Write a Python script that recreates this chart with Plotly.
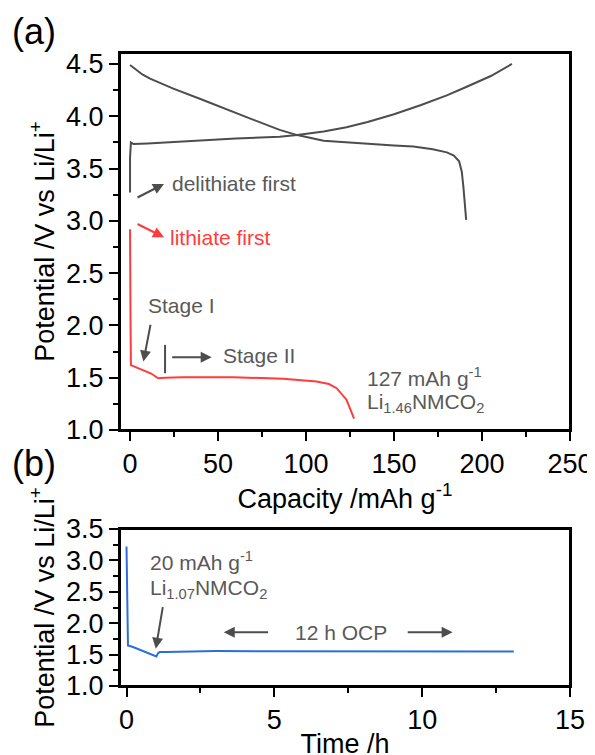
import plotly.graph_objects as go

# ---- data ----
delith_charge_x = [0, 0, 0.5, 2, 10, 20, 40, 60, 85, 95, 110, 123, 135, 150, 165, 180, 191, 205, 217]
delith_charge_y = [3.27, 3.60, 3.75, 3.735, 3.74, 3.75, 3.773, 3.787, 3.805, 3.82, 3.855, 3.895, 3.945, 4.02, 4.105, 4.20, 4.28, 4.385, 4.50]

delith_dis_x = [0, 3, 7, 11.4, 24.6, 40, 55, 68, 85, 95, 110, 130, 150, 161, 172, 180, 184, 187, 188.5, 189.4, 190.2, 191]
delith_dis_y = [4.49, 4.45, 4.40, 4.36, 4.265, 4.165, 4.07, 3.98, 3.87, 3.82, 3.765, 3.74, 3.72, 3.71, 3.685, 3.655, 3.625, 3.57, 3.47, 3.33, 3.15, 3.01]

lith_x = [0, 0, 0.3, 0.5, 7.6, 12, 16, 20, 30, 58.7, 87, 106, 113, 117.4, 123, 127.3]
lith_y = [2.92, 2.04, 2.0, 1.62, 1.575, 1.54, 1.495, 1.50, 1.505, 1.505, 1.49, 1.463, 1.44, 1.40, 1.29, 1.11]

ocp_t = [0, 0.02, 0.03, 0.05, 0.22, 0.67, 0.9, 1.01, 1.07, 1.12, 1.35, 3.03, 13.1]
ocp_v = [3.22, 2.72, 2.70, 1.645, 1.62, 1.54, 1.487, 1.47, 1.524, 1.54, 1.54, 1.556, 1.55]

GRAY = "#4d4d4d"
TXT = "#595959"
RED = "#ff3b3b"
BLUE = "#2b6fd6"
FONT = "Liberation Sans, Arial, sans-serif"

W, H = 595, 755
OFF = 8  # page body offset
ML, MR, MT, MB = 120 - OFF, 25 + OFF, 53 - OFF, 69 + OFF

fig = go.Figure()
fig.add_trace(go.Scatter(x=delith_charge_x, y=delith_charge_y, mode="lines",
                         line=dict(color=GRAY, width=2), xaxis="x", yaxis="y", showlegend=False))
fig.add_trace(go.Scatter(x=delith_dis_x, y=delith_dis_y, mode="lines",
                         line=dict(color=GRAY, width=2), xaxis="x", yaxis="y", showlegend=False))
fig.add_trace(go.Scatter(x=lith_x, y=lith_y, mode="lines",
                         line=dict(color=RED, width=2), xaxis="x", yaxis="y", showlegend=False))
fig.add_trace(go.Scatter(x=ocp_t, y=ocp_v, mode="lines",
                         line=dict(color=BLUE, width=2), xaxis="x2", yaxis="y2", showlegend=False))

ax_common = dict(showline=True, linecolor="black", linewidth=2, mirror=True,
                 ticks="outside", ticklen=9, tickwidth=2, tickcolor="black",
                 showgrid=False, zeroline=False, automargin=False,
                 tickfont=dict(size=27, color="black", family=FONT))
TITLE_FONT = dict(size=27, color="black", family=FONT)

fig.update_layout(
    width=W, height=H,
    margin=dict(l=ML, r=MR, t=MT, b=MB, autoexpand=False),
    plot_bgcolor="white", paper_bgcolor="white",
    font=dict(family=FONT),
    xaxis=dict(domain=[0, 1], anchor="y", range=[-5.7, 250], dtick=50, tick0=0,
               minor=dict(dtick=25, ticklen=5, tickwidth=2, tickcolor="black", ticks="outside"),
               title=dict(text="Capacity /mAh g<sup>-1</sup>", font=TITLE_FONT, standoff=0),
               **ax_common),
    yaxis=dict(domain=[0.4044, 1], anchor="x", range=[1.0, 4.605], dtick=0.5, tick0=1.0,
               tickformat=".1f",
               minor=dict(dtick=0.25, ticklen=5, tickwidth=2, tickcolor="black", ticks="outside"),
               title=dict(text="Potential /V vs Li/Li<sup>+</sup>", font=TITLE_FONT, standoff=4),
               **ax_common),
    xaxis2=dict(domain=[0, 1], anchor="y2", range=[-0.22, 15], dtick=5, tick0=0,
                minor=dict(dtick=2.5, ticklen=5, tickwidth=2, tickcolor="black", ticks="outside"),
                title=dict(text="Time /h", font=TITLE_FONT, standoff=0),
                **ax_common),
    yaxis2=dict(domain=[0, 0.248], anchor="x2", range=[1.0, 3.5], dtick=0.5, tick0=1.0,
                tickformat=".1f",
                minor=dict(dtick=0.25, ticklen=5, tickwidth=2, tickcolor="black", ticks="outside"),
                title=dict(text="Potential /V vs Li/Li<sup>+</sup>", font=TITLE_FONT, standoff=4),
                **ax_common),
)

ann = []
def txt(x, y, s, xr="x", yr="y", color=TXT, size=21):
    ann.append(dict(x=x, y=y, xref=xr, yref=yr, text=s, showarrow=False,
                    xanchor="left", yanchor="middle", font=dict(size=size, color=color, family=FONT)))

def arrow(x0, y0, x1, y1, xr="x", yr="y", color=GRAY):
    ann.append(dict(x=x1, y=y1, ax=x0, ay=y0, xref=xr, yref=yr, axref=xr, ayref=yr,
                    text="", showarrow=True, arrowhead=2, arrowsize=1.1, arrowwidth=2,
                    arrowcolor=color, standoff=0, startstandoff=0))

# top panel annotations
txt(22.7, 3.36, "delithiate first")
arrow(3.4, 3.216, 19.3, 3.353)
txt(21.8, 2.843, "lithiate first", color=RED)
arrow(3.4, 2.977, 19.3, 2.843, color=RED)
txt(9.1, 2.186, "Stage I")
arrow(11.8, 2.021, 7.6, 1.654)
txt(51.5, 1.708, "Stage II")
arrow(23.1, 1.696, 46.4, 1.696)
txt(133.5, 1.51, "127 mAh g<sup>-1</sup>")
txt(133.5, 1.259, "Li<sub>1.46</sub>NMCO<sub>2</sub>")

# bottom panel annotations
txt(0.743, 2.993, "20 mAh g<sup>-1</sup>", "x2", "y2")
txt(0.743, 2.549, "Li<sub>1.07</sub>NMCO<sub>2</sub>", "x2", "y2")
arrow(1.236, 2.28, 0.99, 1.593, "x2", "y2")
txt(5.63, 1.857, "12 h OCP", "x2", "y2")
arrow(4.84, 1.857, 3.29, 1.857, "x2", "y2")
arrow(9.46, 1.857, 11.03, 1.857, "x2", "y2")

# panel labels (target pixel positions converted to paper coords)
PW, PH = W - ML - MR, H - MT - MB
for label, px, py in [("(a)", 10, 32), ("(b)", 10, 463)]:
    ann.append(dict(x=(px - OFF - ML) / PW, y=1 - (py - OFF - MT) / PH, xref="paper", yref="paper",
                    text=label, showarrow=False, xanchor="left", yanchor="middle",
                    font=dict(size=36, color="black", family=FONT)))

fig.update_layout(annotations=ann)

# frame boxes around both panels
for xr, yr in [("x domain", "y domain"), ("x2 domain", "y2 domain")]:
    fig.add_shape(type="rect", x0=0, x1=1, y0=0, y1=1, xref=xr, yref=yr,
                  line=dict(color="black", width=2), fillcolor="rgba(0,0,0,0)", layer="above")

# stage boundary marker
fig.add_shape(type="line", x0=19.9, x1=19.9, y0=1.543, y1=1.814, xref="x", yref="y",
              line=dict(color=GRAY, width=2))

fig.write_html("out.html")
